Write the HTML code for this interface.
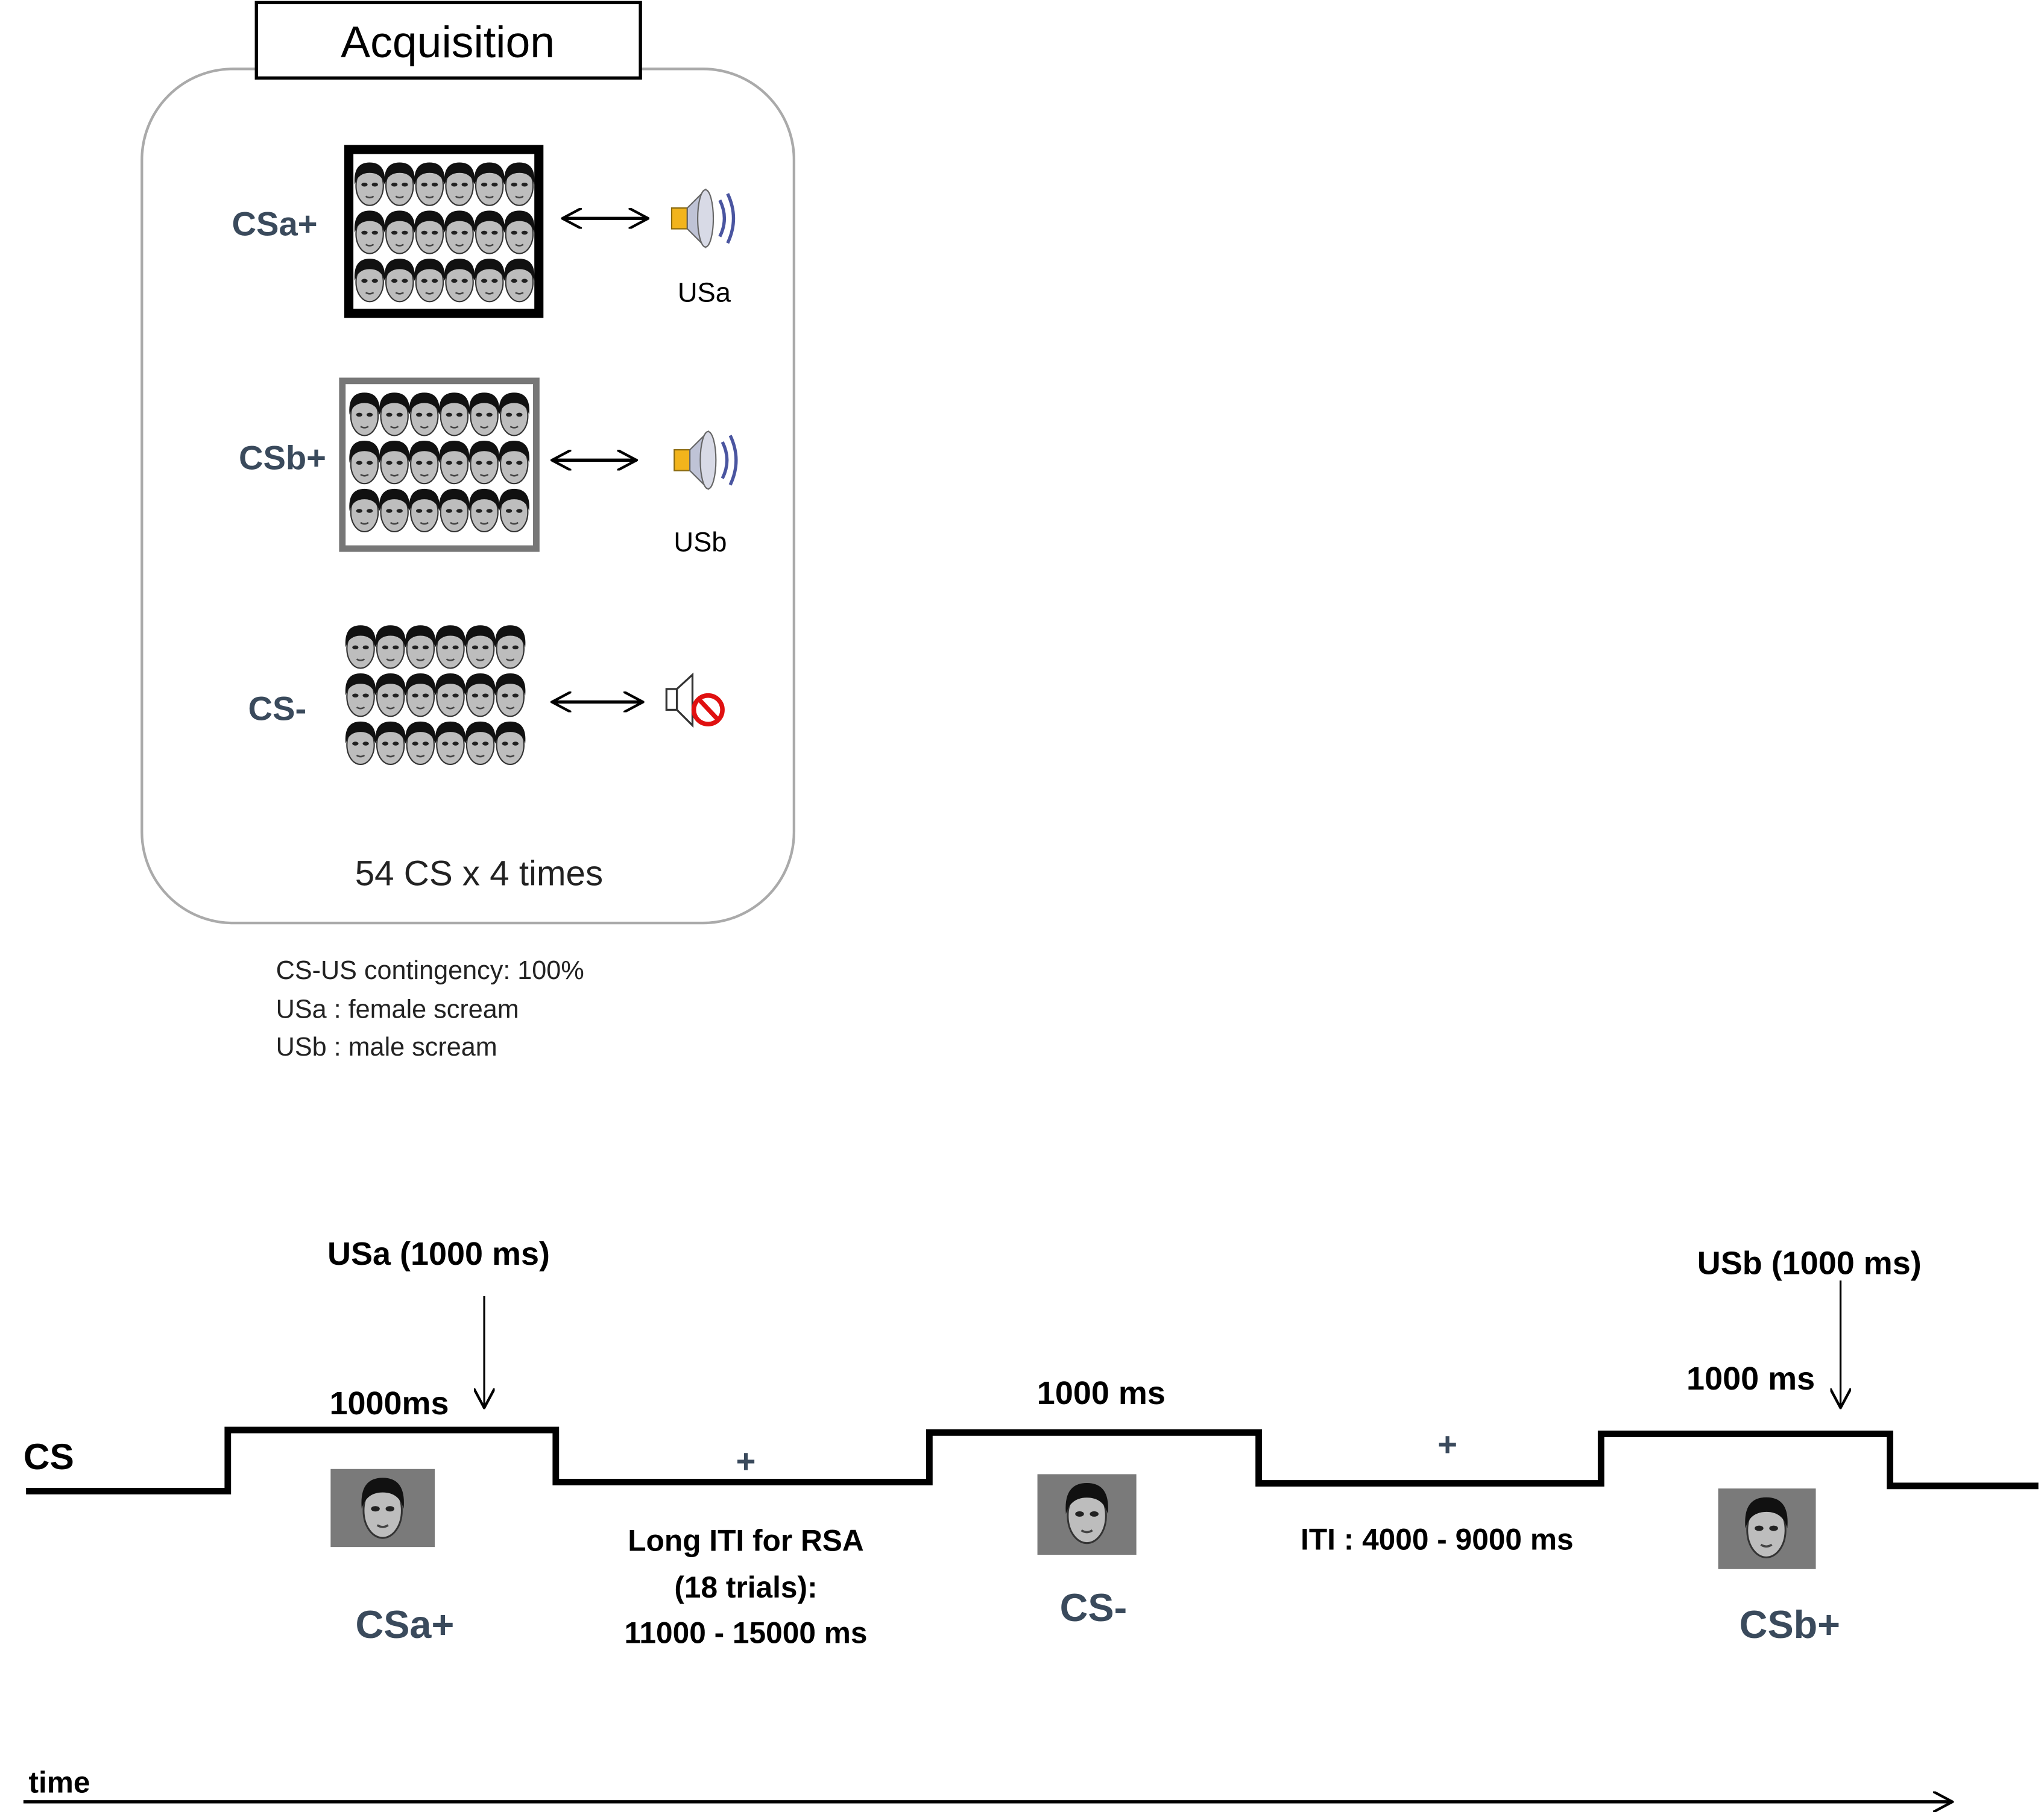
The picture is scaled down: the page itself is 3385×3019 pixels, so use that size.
<!DOCTYPE html>
<html><head><meta charset="utf-8"><style>
html,body{margin:0;padding:0;background:#fff}
svg{display:block}
text{font-family:"Liberation Sans","DejaVu Sans",sans-serif}
</style></head><body>
<svg width="3385" height="3019" viewBox="0 0 1568 1400" preserveAspectRatio="none" xmlns="http://www.w3.org/2000/svg">
<defs>
<g id="face">
<ellipse cx="0" cy="0" rx="10.5" ry="15" fill="#bdbdbd" stroke="#333" stroke-width="1"/>
<path d="M-11.5,-1 Q-13,-18 0,-18 Q13,-18 11.5,-1 Q9,-10 0,-10 Q-9,-10 -11.5,-1Z" fill="#111"/>
<ellipse cx="-4" cy="-1" rx="2.4" ry="1.5" fill="#222"/>
<ellipse cx="4" cy="-1" rx="2.4" ry="1.5" fill="#222"/>
<path d="M-3,8 Q0,10 3,8" stroke="#444" fill="none" stroke-width="1.2"/>
</g>
<g id="row">
<use href="#face" x="0"/><use href="#face" x="23"/><use href="#face" x="46"/><use href="#face" x="69"/><use href="#face" x="92"/><use href="#face" x="115"/>
</g>
<g id="grid">
<use href="#row" y="0"/><use href="#row" y="37"/><use href="#row" y="74"/>
</g>
<g id="spk">
<rect x="0" y="14" width="12" height="16" fill="#f2b41c" stroke="#8a6a10" stroke-width="1"/>
<path d="M12,14 L26,0 L26,44 L12,30Z" fill="#bfc3d6" stroke="#666" stroke-width="1"/>
<ellipse cx="26" cy="22" rx="6" ry="22" fill="#d8dae6" stroke="#666" stroke-width="1"/>
<path d="M37,8 Q44,22 37,36" stroke="#4a55a0" stroke-width="2.5" fill="none"/>
<path d="M43,3 Q52,22 43,41" stroke="#4a55a0" stroke-width="2.5" fill="none"/>
</g>
<marker id="ah2" viewBox="0 0 16 16" refX="15" refY="8" markerWidth="16" markerHeight="16" orient="auto-start-reverse" markerUnits="userSpaceOnUse"><path d="M0,0 L15,8 L0,16" fill="none" stroke="#000" stroke-width="2"/></marker>
</defs>

<rect x="109" y="53" width="501" height="657" rx="70" fill="none" stroke="#aaa" stroke-width="2"/>
<rect x="197" y="2" width="295" height="58" fill="#fff" stroke="#000" stroke-width="2.5"/>
<text x="344" y="44" font-size="34" text-anchor="middle">Acquisition</text>

<text x="211" y="181" font-size="26" font-weight="bold" fill="#3a4a5c" text-anchor="middle">CSa+</text>
<rect x="268" y="115" width="146" height="126" fill="#fff" stroke="#000" stroke-width="7"/>
<use href="#grid" x="284" y="143"/>
<line x1="432" y1="168" x2="498" y2="168" stroke="#000" stroke-width="2.5" marker-start="url(#ah2)" marker-end="url(#ah2)"/>
<use href="#spk" x="516" y="146"/>
<text x="541" y="232" font-size="21" text-anchor="middle">USa</text>

<text x="217" y="361" font-size="26" font-weight="bold" fill="#3a4a5c" text-anchor="middle">CSb+</text>
<rect x="263" y="293" width="149" height="129" fill="#fff" stroke="#777" stroke-width="5"/>
<use href="#grid" x="280" y="320"/>
<line x1="424" y1="354" x2="489" y2="354" stroke="#000" stroke-width="2.5" marker-start="url(#ah2)" marker-end="url(#ah2)"/>
<use href="#spk" x="518" y="332"/>
<text x="538" y="424" font-size="21" text-anchor="middle">USb</text>

<text x="213" y="554" font-size="26" font-weight="bold" fill="#3a4a5c" text-anchor="middle">CS-</text>
<use href="#grid" x="277" y="499"/>
<line x1="424" y1="540" x2="494" y2="540" stroke="#000" stroke-width="2.5" marker-start="url(#ah2)" marker-end="url(#ah2)"/>
<rect x="512" y="530" width="8" height="16" fill="none" stroke="#333" stroke-width="1.5"/>
<path d="M520,530 L532,519 L532,558 L520,546Z" fill="none" stroke="#333" stroke-width="1.5"/>
<circle cx="544" cy="546" r="11" fill="none" stroke="#e01010" stroke-width="3.5"/>
<line x1="537" y1="538" x2="552" y2="554" stroke="#e01010" stroke-width="3.5"/>

<text x="368" y="681" font-size="27" text-anchor="middle" fill="#222">54 CS x 4 times</text>
<text x="212" y="753" font-size="20" fill="#222">CS-US contingency: 100%</text>
<text x="212" y="783" font-size="20" fill="#222">USa : female scream</text>
<text x="212" y="812" font-size="20" fill="#222">USb : male scream</text>

<polyline points="20,1147 175,1147 175,1100 427,1100 427,1140 714,1140 714,1102 967,1102 967,1141 1230,1141 1230,1103 1452,1103 1452,1143 1566,1143" fill="none" stroke="#000" stroke-width="5"/>
<text x="18" y="1130" font-size="28" font-weight="bold">CS</text>

<text x="337" y="973" font-size="25" font-weight="bold" text-anchor="middle">USa  (1000 ms)</text>
<line x1="372" y1="997" x2="372" y2="1083" stroke="#000" stroke-width="1.5" marker-end="url(#ah2)"/>
<text x="299" y="1088" font-size="25" font-weight="bold" text-anchor="middle">1000ms</text>
<rect x="254" y="1130" width="80" height="60" fill="#7a7a7a"/>
<g transform="translate(294,1162) scale(1.4)"><use href="#face"/></g>
<text x="311" y="1260" font-size="30" font-weight="bold" fill="#3a4a5c" text-anchor="middle">CSa+</text>

<text x="573" y="1133" font-size="26" font-weight="bold" fill="#3a4a5c" text-anchor="middle">+</text>
<text x="573" y="1193" font-size="23" font-weight="bold" text-anchor="middle">Long ITI for RSA</text>
<text x="573" y="1229" font-size="23" font-weight="bold" text-anchor="middle">(18 trials):</text>
<text x="573" y="1264" font-size="23" font-weight="bold" text-anchor="middle">11000 -  15000 ms</text>

<text x="846" y="1080" font-size="25" font-weight="bold" text-anchor="middle">1000 ms</text>
<rect x="797" y="1134" width="76" height="62" fill="#7a7a7a"/>
<g transform="translate(835,1166) scale(1.4)"><use href="#face"/></g>
<text x="840" y="1247" font-size="30" font-weight="bold" fill="#3a4a5c" text-anchor="middle">CS-</text>

<text x="1112" y="1120" font-size="26" font-weight="bold" fill="#3a4a5c" text-anchor="middle">+</text>
<text x="1104" y="1192" font-size="23" font-weight="bold" text-anchor="middle">ITI : 4000 -  9000 ms</text>

<text x="1390" y="980" font-size="25" font-weight="bold" text-anchor="middle">USb   (1000 ms)</text>
<line x1="1414" y1="985" x2="1414" y2="1083" stroke="#000" stroke-width="1.5" marker-end="url(#ah2)"/>
<text x="1345" y="1069" font-size="25" font-weight="bold" text-anchor="middle">1000 ms</text>
<rect x="1320" y="1145" width="75" height="62" fill="#7a7a7a"/>
<g transform="translate(1357,1177) scale(1.4)"><use href="#face"/></g>
<text x="1375" y="1260" font-size="30" font-weight="bold" fill="#3a4a5c" text-anchor="middle">CSb+</text>

<text x="22" y="1379" font-size="23" font-weight="bold">time</text>
<line x1="18" y1="1386" x2="1500" y2="1386" stroke="#000" stroke-width="2.5" marker-end="url(#ah2)"/>
</svg>
</body></html>
